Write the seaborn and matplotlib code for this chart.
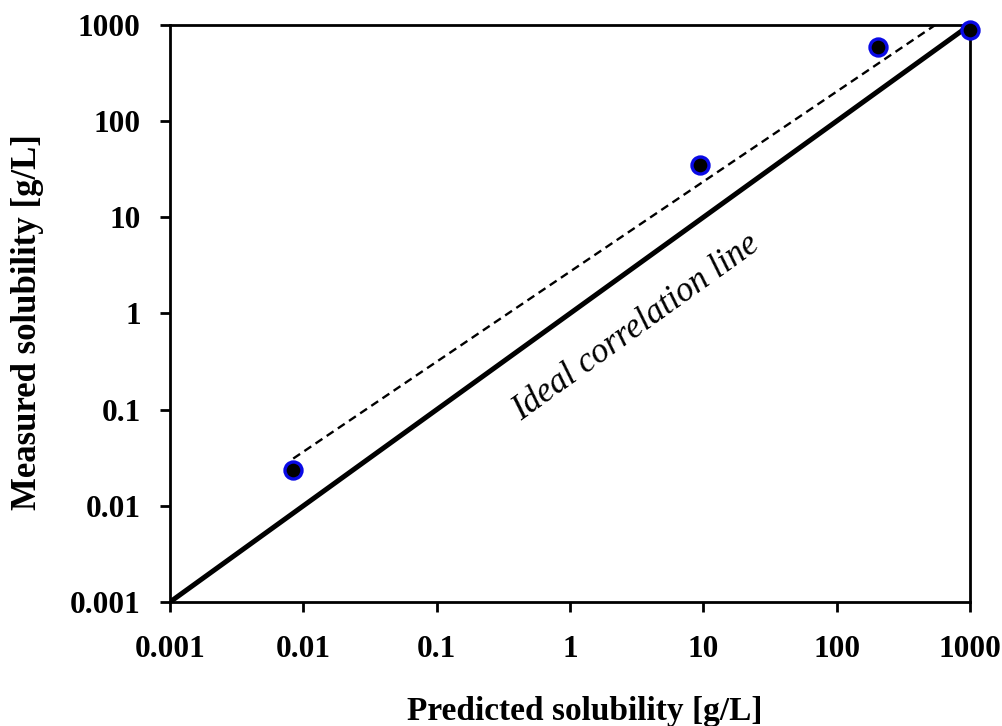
#!/usr/bin/python3

from matplotlib import pyplot as plt
from matplotlib.ticker import FixedLocator, FixedFormatter, NullLocator
import pandas as pd
import seaborn as sns

# measured vs predicted solubility [g/L]
predicted = [0.0084, 9.5, 205, 1000]
measured = [0.0236, 35, 590, 880]

# ideal correlation line (y = x) and fitted trend line endpoints
ideal_x = [0.001, 1000]
ideal_y = [0.001, 1000]
fit_x = [0.0084, 550]
fit_y = [0.031, 1000]

ticks = [0.001, 0.01, 0.1, 1, 10, 100, 1000]
tick_labels = ['0.001', '0.01', '0.1', '1', '10', '100', '1000']

df = pd.DataFrame({'predicted': predicted, 'measured': measured})
df_ideal = pd.DataFrame({'x': ideal_x, 'y': ideal_y})
df_fit = pd.DataFrame({'x': fit_x, 'y': fit_y})

sns.set_theme(style='ticks')
plt.rcParams['font.family'] = ['Liberation Serif', 'DejaVu Serif']
plt.rcParams['font.weight'] = 'bold'

fig = plt.figure(figsize=(10.03, 7.26), dpi=100)
ax = fig.add_axes([0.1695, 0.1708, 0.7975, 0.7948])

ax.set_xscale('log')
ax.set_yscale('log')

sns.lineplot(x='x', y='y', data=df_ideal, ax=ax, color='black', linewidth=3.6,
             solid_capstyle='butt')
sns.lineplot(x='x', y='y', data=df_fit, ax=ax, color='black', linewidth=1.7,
             linestyle=(0, (3.5, 2.2)))
sns.scatterplot(x='predicted', y='measured', data=df, ax=ax, color='black',
                edgecolor='#0a0ae6', linewidth=2.4, s=150, zorder=5, clip_on=False)

ax.text(3.13, 0.72, 'Ideal correlation line', rotation=35.8, rotation_mode='anchor',
        ha='center', va='center', fontsize=25, style='italic', fontweight='normal',
        color='black')

ax.set_xlim(0.001, 1000)
ax.set_ylim(0.001, 1000)
for axis in (ax.xaxis, ax.yaxis):
    axis.set_major_locator(FixedLocator(ticks))
    axis.set_major_formatter(FixedFormatter(tick_labels))
    axis.set_minor_locator(NullLocator())

for spine in ax.spines.values():
    spine.set_linewidth(2.0)
    spine.set_color('black')

ax.tick_params(axis='both', which='major', direction='out', length=7, width=2.0,
               color='black', labelsize=22.5, labelcolor='black')
ax.tick_params(axis='x', pad=17)
ax.tick_params(axis='y', pad=14)

ax.set_xlabel('Predicted solubility [g/L]', fontsize=24, fontweight='bold', color='black')
ax.set_ylabel('Measured solubility [g/L]', fontsize=25, fontweight='bold', color='black')
ax.xaxis.set_label_coords(0.519, -0.163)
ax.yaxis.set_label_coords(-0.158, 0.485)

plt.savefig('out.png', dpi=100)
